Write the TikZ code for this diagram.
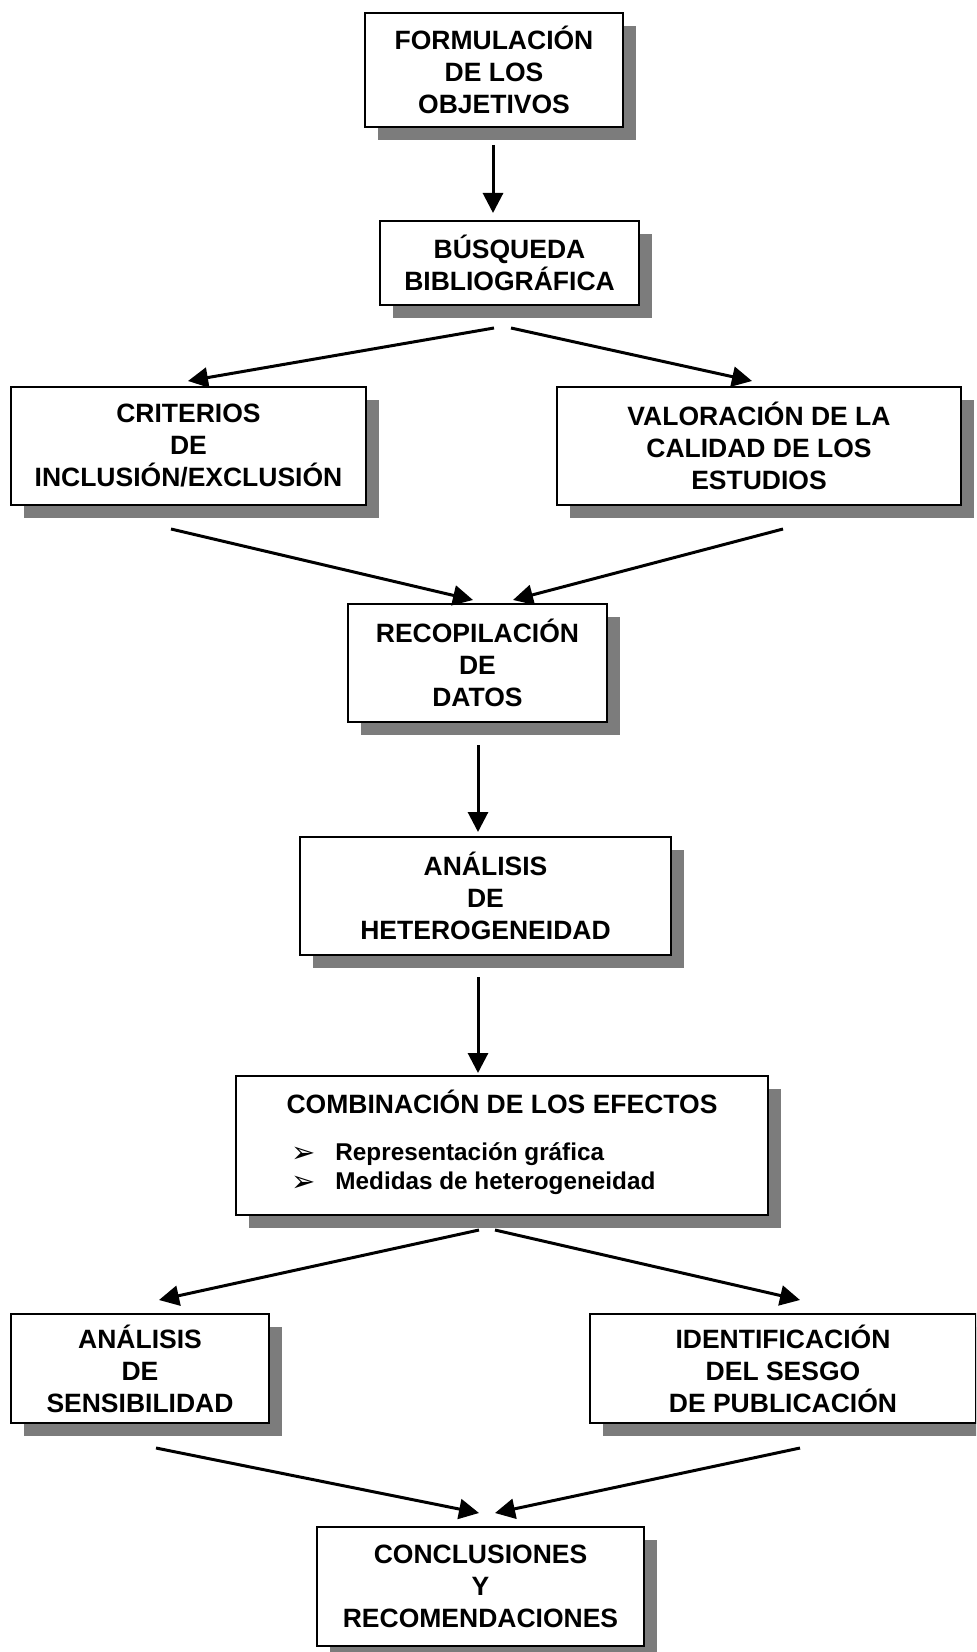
\documentclass[tikz,border=0pt]{standalone}
\usepackage{fontspec}
\setmainfont{Liberation Sans}
\newfontfamily\symfont{DejaVu Sans}
\usetikzlibrary{arrows.meta,shadows}
\definecolor{shadowgray}{RGB}{124,124,124}
\tikzset{
  box/.style={draw=black, line width=1.2pt, fill=white, align=center, inner sep=0pt,
    font=\fontsize{13.25}{16}\selectfont\bfseries,
    drop shadow={shadow xshift=6.5pt, shadow yshift=-6.5pt, fill=shadowgray, opacity=1}},
  conn/.style={line width=1.5pt, -{Triangle[length=10pt,width=10pt]}},
  itemtxt/.style={font=\fontsize{12.15}{14}\selectfont\bfseries, anchor=west, inner sep=0pt},
  bul/.style={font=\fontsize{14.5}{16}\selectfont\symfont, inner sep=0pt},
}
\begin{document}
\begin{tikzpicture}[x=0.5pt,y=-0.5pt]
\clip (0,0) rectangle (976,1652);
\fill[white] (0,0) rectangle (976,1652);

\node[box, minimum width=129pt, minimum height=57pt] (form) at (494,70) {FORMULACIÓN\\DE LOS\\OBJETIVOS};
\node[box, minimum width=129.5pt, minimum height=42pt] (busq) at (509.5,263) {BÚSQUEDA\\BIBLIOGRÁFICA};
\node[box, minimum width=177.5pt, minimum height=59pt] (crit) at (188.5,446) {CRITERIOS\\DE\\INCLUSIÓN/EXCLUSIÓN};
\node[box, minimum width=202pt, minimum height=59pt] (valo) at (759,446) {VALORACIÓN DE LA\\CALIDAD DE LOS\\ESTUDIOS};
\node[box, minimum width=129.5pt, minimum height=59pt] (reco) at (477.5,663) {RECOPILACIÓN\\DE\\DATOS};
\node[box, minimum width=185.5pt, minimum height=59pt] (anhet) at (485.5,896) {ANÁLISIS\\DE\\HETEROGENEIDAD};
\node[box, minimum width=266pt, minimum height=69.5pt] (comb) at (502,1145.5) {};
\node[font=\fontsize{13.25}{16}\selectfont\bfseries, inner sep=0pt] (combt) at (502,1102) {COMBINACIÓN DE LOS EFECTOS};
\node[bul] (b1) at (304,1155) {➢};
\node[itemtxt] (i1) at (335,1154) {Representación gráfica};
\node[bul] (b2) at (304,1184) {➢};
\node[itemtxt] (i2) at (335,1183) {Medidas de heterogeneidad};
\node[box, minimum width=129pt, minimum height=54.5pt] (sens) at (140,1368.5) {ANÁLISIS\\DE\\SENSIBILIDAD};
\node[box, minimum width=193pt, minimum height=54.5pt] (iden) at (783,1368.5) {IDENTIFICACIÓN\\DEL SESGO\\DE PUBLICACIÓN};
\node[box, minimum width=163.5pt, minimum height=59.5pt] (conc) at (480.5,1586.5) {CONCLUSIONES\\Y\\RECOMENDACIONES};

\coordinate (s1) at (493,145);  \coordinate (e1) at (493,213);
\coordinate (s2) at (494,328);  \coordinate (e2) at (188,381);
\coordinate (s3) at (511,328);  \coordinate (e3) at (752,381);
\coordinate (s4) at (171,529);  \coordinate (e4) at (473,600);
\coordinate (s5) at (783,529);  \coordinate (e5) at (513,600);
\coordinate (s6) at (478,745);  \coordinate (e6) at (478,832);
\coordinate (s7) at (478,977);  \coordinate (e7) at (478,1073);
\coordinate (s8) at (479,1230); \coordinate (e8) at (159,1300);
\coordinate (s9) at (495,1230); \coordinate (e9) at (800,1300);
\coordinate (s10) at (156,1448); \coordinate (e10) at (479,1513);
\coordinate (s11) at (800,1448); \coordinate (e11) at (495,1513);

\foreach \i in {1,...,11} { \draw[conn] (s\i) -- (e\i); }
\end{tikzpicture}
\end{document}
